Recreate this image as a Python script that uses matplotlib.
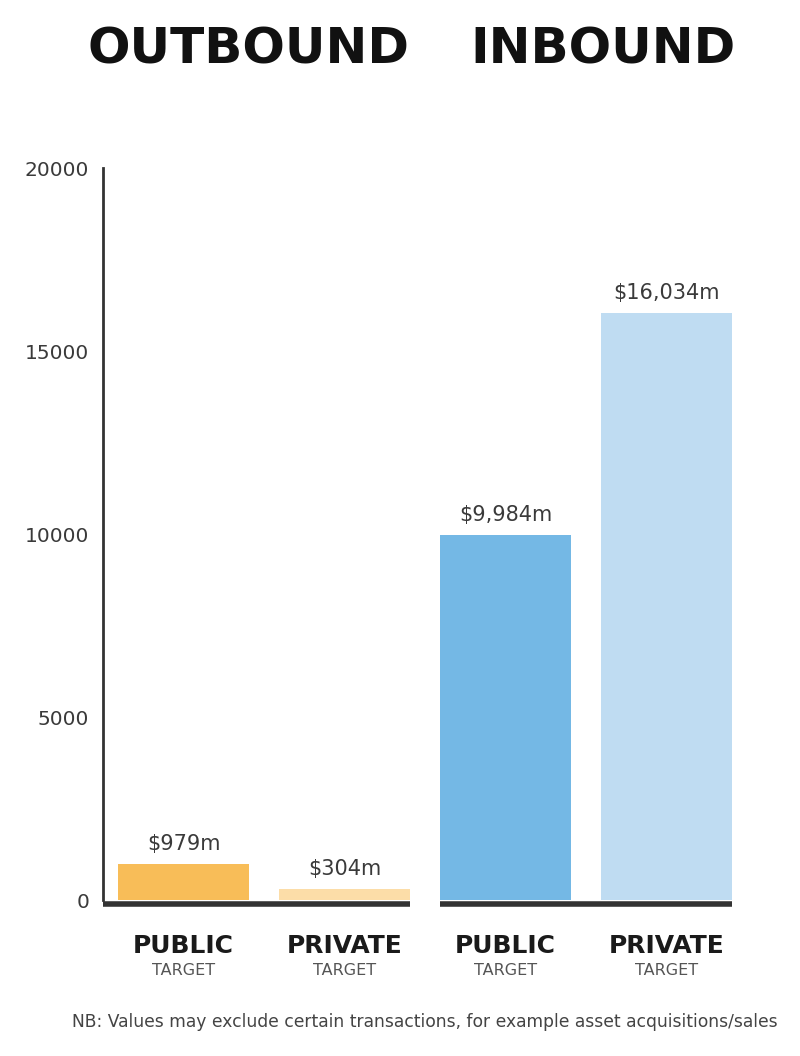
import matplotlib.pyplot as plt
import numpy as np

# datos
categorias = ["PUBLIC", "PRIVATE", "PUBLIC", "PRIVATE"]
subtitulos = ["TARGET", "TARGET", "TARGET", "TARGET"]
valores = [979, 304, 9984, 16034]
etiquetas = ["$979m", "$304m", "$9,984m", "$16,034m"]
grupos = ["OUTBOUND", "INBOUND"]
colores = ["#F8BD58", "#FCDDA8", "#74B8E5", "#BFDCF2"]
yticks = [0, 5000, 10000, 15000, 20000]

fig = plt.figure(figsize=(8, 10.56), dpi=100)
ax = fig.add_axes([0.129, 0.1477, 0.805, 0.6932])

x = np.arange(len(valores))
ancho = 0.81
ax.bar(x, valores, width=ancho, color=colores, zorder=2)

# etiquetas de valor encima de las barras
for xi, v, et in zip(x, valores, etiquetas):
    ax.annotate(et, (xi, v), xytext=(0, 7), textcoords="offset points",
                ha="center", va="bottom", fontsize=15, color="#3a3a3a")

# linea base por grupo
for g in range(2):
    x0 = x[2 * g] - ancho / 2
    x1 = x[2 * g + 1] + ancho / 2
    if g == 0:
        x0 = -0.5
    ax.plot([x0, x1], [-120, -120], color="#333333", lw=4,
            solid_capstyle="butt", clip_on=False, zorder=3)

ax.set_xlim(-0.5, 3.5)
ax.set_ylim(0, 20000)
ax.set_yticks(yticks)
ax.set_yticklabels([str(t) for t in yticks], fontsize=14.5, color="#3a3a3a")
ax.tick_params(axis="y", length=0, pad=10)
ax.set_xticks([])
for s in ["top", "right", "bottom"]:
    ax.spines[s].set_visible(False)
ax.spines["left"].set_color("#333333")
ax.spines["left"].set_linewidth(2)

# etiquetas de categoria
for xi, cat, sub in zip(x, categorias, subtitulos):
    ax.annotate(cat, (xi, 0), xytext=(0, -33), textcoords="offset points",
                ha="center", va="center", fontsize=18, fontweight="bold",
                color="#1a1a1a", annotation_clip=False)
    ax.annotate(sub, (xi, 0), xytext=(0, -51), textcoords="offset points",
                ha="center", va="center", fontsize=11.5, color="#555555",
                annotation_clip=False)

# titulos
fig.text(0.31, 0.953, grupos[0], ha="center", va="center", fontsize=36,
         fontweight="heavy", color="#111111")
fig.text(0.754, 0.953, grupos[1], ha="center", va="center", fontsize=36,
         fontweight="heavy", color="#111111")

fig.text(0.531, 0.032,
         "NB: Values may exclude certain transactions, for example asset acquisitions/sales",
         ha="center", va="center", fontsize=12.3, color="#444444")

fig.savefig("out.png", dpi=100)
